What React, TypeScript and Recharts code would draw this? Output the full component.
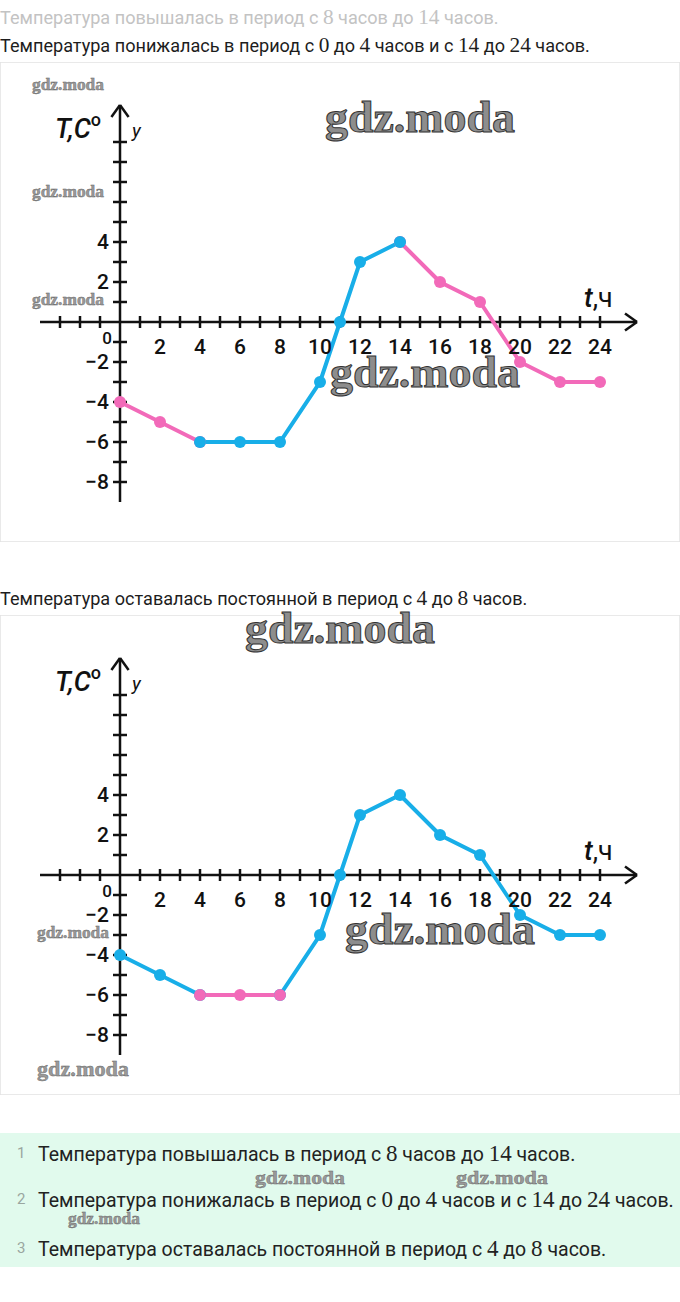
import { CartesianGrid, Line, LineChart, ReferenceDot, ReferenceLine, XAxis, YAxis } from 'recharts'

// readings from the graph: hour -> temperature
const HOURS = [0, 2, 4, 6, 8, 10, 11, 12, 14, 16, 18, 20, 22, 24]
const TEMPS = [-4, -5, -6, -6, -6, -3, 0, 3, 4, 2, 1, -2, -3, -3]

const GRID_X = [-6, -5, -4, -3, -2, -1, 0, 1, 2, 3, 4, 5, 6, 7, 8, 9, 10, 11, 12, 13, 14, 15, 16, 17, 18, 19, 20, 21, 22, 23, 24, 25, 26, 27, 28]
const GRID_Y = [-11, -10, -9, -8, -7, -6, -5, -4, -3, -2, -1, 0, 1, 2, 3, 4, 5, 6, 7, 8, 9, 10, 11, 12, 13]
const X_TICKS = [-3, -2, -1, 1, 2, 3, 4, 5, 6, 7, 8, 9, 10, 11, 12, 13, 14, 15, 16, 17, 18, 19, 20, 21, 22, 23, 24]
const Y_TICKS = [-8, -7, -6, -5, -4, -3, -2, -1, 1, 2, 3, 4, 5, 6, 7, 8, 9]
const X_LABELS = [2, 4, 6, 8, 10, 12, 14, 16, 18, 20, 22, 24]
const Y_LABELS = [4, 2, -2, -4, -6, -8]

const PINK = '#f26ab9'
const BLUE = '#18aee8'
const INK = '#111'

type Segment = { from: number; to: number; color: string }

// later segments are drawn on top, so their dots win at shared points
const RISE_FALL: Segment[] = [
  { from: 0, to: 4, color: PINK },
  { from: 14, to: 24, color: PINK },
  { from: 4, to: 14, color: BLUE },
]
const CONSTANT: Segment[] = [
  { from: 0, to: 4, color: BLUE },
  { from: 8, to: 24, color: BLUE },
  { from: 4, to: 8, color: PINK },
]

const minus = (v: number) => (v < 0 ? `\u2212${-v}` : `${v}`)

function TempChart({ segments }: { segments: Segment[] }) {
  const data = HOURS.map((t, i) => {
    const row: Record<string, number | null> = { t }
    segments.forEach((s, k) => {
      row[`s${k}`] = t >= s.from && t <= s.to ? TEMPS[i] : null
    })
    return row
  })
  const labelFont = { fontSize: 21, fill: INK, fontFamily: 'Roboto', fontWeight: 500 }

  return (
    <LineChart width={680} height={480} data={data} margin={{ top: 0, right: 0, bottom: 0, left: 0 }}>
      <CartesianGrid stroke="#e2e2e2" strokeWidth={1.5} />
      <XAxis type="number" dataKey="t" domain={[-6, 28]} ticks={GRID_X} allowDataOverflow height={0} tick={false} axisLine={false} tickLine={false} />
      <YAxis type="number" domain={[-11, 13]} ticks={GRID_Y} allowDataOverflow width={0} tick={false} axisLine={false} tickLine={false} />

      {/* axes */}
      <ReferenceLine segment={[{ x: -4, y: 0 }, { x: 25.85, y: 0 }]} stroke={INK} strokeWidth={2.5} />
      <ReferenceLine segment={[{ x: 25.25, y: 0.43 }, { x: 25.85, y: 0 }]} stroke={INK} strokeWidth={2.5} />
      <ReferenceLine segment={[{ x: 25.25, y: -0.43 }, { x: 25.85, y: 0 }]} stroke={INK} strokeWidth={2.5} />
      <ReferenceLine segment={[{ x: 0, y: -9 }, { x: 0, y: 10.85 }]} stroke={INK} strokeWidth={2.5} />
      <ReferenceLine segment={[{ x: -0.43, y: 10.25 }, { x: 0, y: 10.85 }]} stroke={INK} strokeWidth={2.5} />
      <ReferenceLine segment={[{ x: 0.43, y: 10.25 }, { x: 0, y: 10.85 }]} stroke={INK} strokeWidth={2.5} />
      {X_TICKS.map((v) => (
        <ReferenceLine key={`xt${v}`} segment={[{ x: v, y: -0.3 }, { x: v, y: 0.3 }]} stroke={INK} strokeWidth={2.5} />
      ))}
      {Y_TICKS.map((v) => (
        <ReferenceLine key={`yt${v}`} segment={[{ x: -0.35, y: v }, { x: 0.35, y: v }]} stroke={INK} strokeWidth={2.5} />
      ))}
      {X_LABELS.map((v) => (
        <ReferenceDot key={`xl${v}`} x={v} y={-1.25} r={0} fill="none" stroke="none" label={{ value: minus(v), position: 'center', ...labelFont }} />
      ))}
      {Y_LABELS.map((v) => (
        <ReferenceDot key={`yl${v}`} x={-0.3} y={v} r={0} fill="none" stroke="none" label={{ value: minus(v), position: 'left', ...labelFont }} />
      ))}
      <ReferenceDot x={-0.65} y={-0.8} r={0} fill="none" stroke="none" label={{ value: '0', position: 'center', ...labelFont, fontSize: 17 }} />

      {segments.map((s, k) => (
        <Line
          key={k}
          type="linear"
          dataKey={`s${k}`}
          stroke={s.color}
          strokeWidth={4}
          dot={{ r: 6, fill: s.color, stroke: s.color, strokeWidth: 0 }}
          activeDot={false}
          connectNulls={false}
          isAnimationActive={false}
        />
      ))}
    </LineChart>
  )
}

const M = ({ children }: { children: React.ReactNode }) => (
  <span style={{ fontFamily: '"Liberation Serif", serif', fontSize: '1.18em' }}>{children}</span>
)

const LINE_UP = <>Температура повышалась в период с <M>8</M> часов до <M>14</M> часов.</>
const LINE_DOWN = <>Температура понижалась в период с <M>0</M> до <M>4</M> часов и с <M>14</M> до <M>24</M> часов.</>
const LINE_FLAT = <>Температура оставалась постоянной в период с <M>4</M> до <M>8</M> часов.</>

// watermark layout: left x, baseline y, width, font size
const MARKS = [
  [32, 90, 72, 16], [32, 197, 72, 16], [32, 305, 72, 16],
  [325, 132, 190, 44], [330, 387, 190, 44],
  [245, 643, 190, 44], [345, 944, 190, 44],
  [37, 938, 72, 16], [37, 1076, 92, 20],
  [255, 1184, 90, 19], [456, 1184, 92, 19], [68, 1224, 72, 16],
]

function AxisTitles({ dy }: { dy: number }) {
  return (
    <g fontFamily="Roboto, sans-serif" fill={INK}>
      <text x={55} y={138 + dy} fontSize={27} fontStyle="italic" fontWeight={500}>
        T,C<tspan fontSize={18} dy={-12} fontStyle="normal">o</tspan>
      </text>
      <text x={132} y={137 + dy} fontSize={19} fontStyle="italic">y</text>
      <text x={584} y={307 + dy} fontSize={27}>
        <tspan fontStyle="italic" fontWeight={500}>t</tspan>,ч
      </text>
    </g>
  )
}

export default function App() {
  const textLine = (top: number, color: string, content: React.ReactNode) => (
    <div style={{ position: 'absolute', left: 0, top, fontSize: 18.1, lineHeight: '20px', color, whiteSpace: 'nowrap' }}>{content}</div>
  )
  const boxItem = (top: number, n: number, content: React.ReactNode) => (
    <div style={{ position: 'absolute', left: 0, top, fontSize: 19.5, lineHeight: '22px', color: '#222', whiteSpace: 'nowrap' }}>
      <span style={{ position: 'absolute', left: 17, color: '#9aa6a0', fontSize: 15 }}>{n}</span>
      <span style={{ position: 'absolute', left: 38 }}>{content}</span>
    </div>
  )

  return (
    <div style={{ position: 'absolute', left: 0, top: 0, width: 680, height: 1302, background: '#fff', overflow: 'hidden', fontFamily: 'Roboto, "Noto Sans", sans-serif' }}>
      {textLine(7, '#c3c3c3', LINE_UP)}
      {textLine(35, '#1d1d1d', LINE_DOWN)}
      {textLine(588, '#1d1d1d', LINE_FLAT)}

      <div style={{ position: 'absolute', left: 0, top: 62 }}>
        <TempChart segments={RISE_FALL} />
      </div>
      <div style={{ position: 'absolute', left: 0, top: 615 }}>
        <TempChart segments={CONSTANT} />
      </div>

      <div style={{ position: 'absolute', left: 0, top: 1133, width: 680, height: 134, background: '#e1faed' }}>
        {boxItem(9, 1, LINE_UP)}
        {boxItem(55, 2, LINE_DOWN)}
        {boxItem(104, 3, LINE_FLAT)}
      </div>

      <svg width={680} height={1302} style={{ position: 'absolute', left: 0, top: 0, pointerEvents: 'none' }}>
        <AxisTitles dy={0} />
        <AxisTitles dy={553} />
        {MARKS.map(([x, y, w, size], i) => (
          <text
            key={i}
            x={x}
            y={y}
            fontSize={size}
            textLength={w}
            lengthAdjust="spacingAndGlyphs"
            fontFamily='"Liberation Serif", serif'
            fontWeight="bold"
            fill={size > 30 ? '#8d8d8d' : '#9a9a9a'}
            stroke={size > 30 ? '#333' : '#666'}
            strokeWidth={size > 30 ? 1 : 0.4}
          >
            gdz.moda
          </text>
        ))}
      </svg>
    </div>
  )
}
